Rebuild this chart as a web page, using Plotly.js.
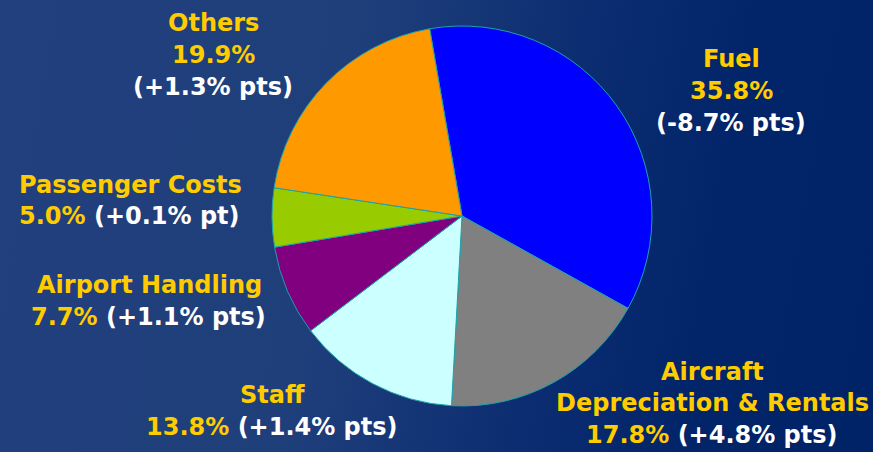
<!DOCTYPE html>
<html>
<head>
<meta charset="utf-8">
<script src="https://cdn.plot.ly/plotly-3.0.1.min.js"></script>
<style>
html,body{margin:0;padding:0;}
body{width:873px;height:452px;overflow:hidden;
background:linear-gradient(100deg,#21407d 0%,#1f3f7b 38%,#0c2d71 62%,#022468 80%,#002266 100%);}
#chart{width:873px;height:452px;}
</style>
</head>
<body>
<div id="chart"></div>
<script>
const categories = ["Fuel", "Aircraft Depreciation & Rentals", "Staff", "Airport Handling", "Passenger Costs", "Others"];
const shares = [35.8, 17.8, 13.8, 7.7, 5.0, 19.9];
const changes = ["(-8.7% pts)", "(+4.8% pts)", "(+1.4% pts)", "(+1.1% pts)", "(+0.1% pt)", "(+1.3% pts)"];
const sliceColors = ["#0000ff", "#808080", "#ccffff", "#800080", "#99cc00", "#ff9900"];

const YEL = "#ffcc00", WHT = "#ffffff";
const pct = i => shares[i].toFixed(1) + "%";
const y = s => `<span style="color:${YEL}">${s}</span>`;
const w = s => `<span style="color:${WHT}">${s}</span>`;

// label lines per category: [text, x(px), y(px)]
const labelLines = [
  [[y(categories[0]), 731, 59], [y(pct(0)), 731, 91], [w(changes[0]), 731, 123]],
  [[y("Aircraft"), 712, 372], [y("Depreciation &amp; Rentals"), 712, 403], [y(pct(1)) + " " + w(changes[1]), 712, 435]],
  [[y(categories[2]), 272, 395], [y(pct(2)) + " " + w(changes[2]), 272, 427]],
  [[y(categories[3]), 149, 285], [y(pct(3)) + " " + w(changes[3]), 148, 317]],
  [[y(categories[4]), 130, 185], [y(pct(4)) + " " + w(changes[4]), 129, 216]],
  [[y(categories[5]), 213, 23], [y(pct(5)), 213, 55], [w(changes[5]), 213, 87]]
];

const W = 873, H = 452;
const annotations = [];
labelLines.forEach(lines => lines.forEach(([t, px, py]) => {
  annotations.push({
    text: t, xref: "paper", yref: "paper",
    x: px / W, y: 1 - py / H, xanchor: "center", yanchor: "middle",
    showarrow: false,
    font: {family: "DejaVu Sans", size: 24, color: YEL, weight: "bold"}
  });
}));

const cx = 462, cy = 216, r = 190;
const data = [{
  type: "pie",
  labels: categories,
  values: shares,
  sort: false,
  direction: "clockwise",
  rotation: -9.8,
  marker: {colors: sliceColors, line: {color: "#1aa3a8", width: 1}},
  textinfo: "none",
  hoverinfo: "none",
  showlegend: false,
  domain: {x: [(cx - r) / W, (cx + r) / W], y: [1 - (cy + r) / H, 1 - (cy - r) / H]}
}];

const layout = {
  width: W, height: H,
  margin: {l: 0, r: 0, t: 0, b: 0},
  paper_bgcolor: "rgba(0,0,0,0)",
  plot_bgcolor: "rgba(0,0,0,0)",
  showlegend: false,
  annotations: annotations
};

Plotly.newPlot("chart", data, layout, {displayModeBar: false, staticPlot: true});
</script>
</body>
</html>
